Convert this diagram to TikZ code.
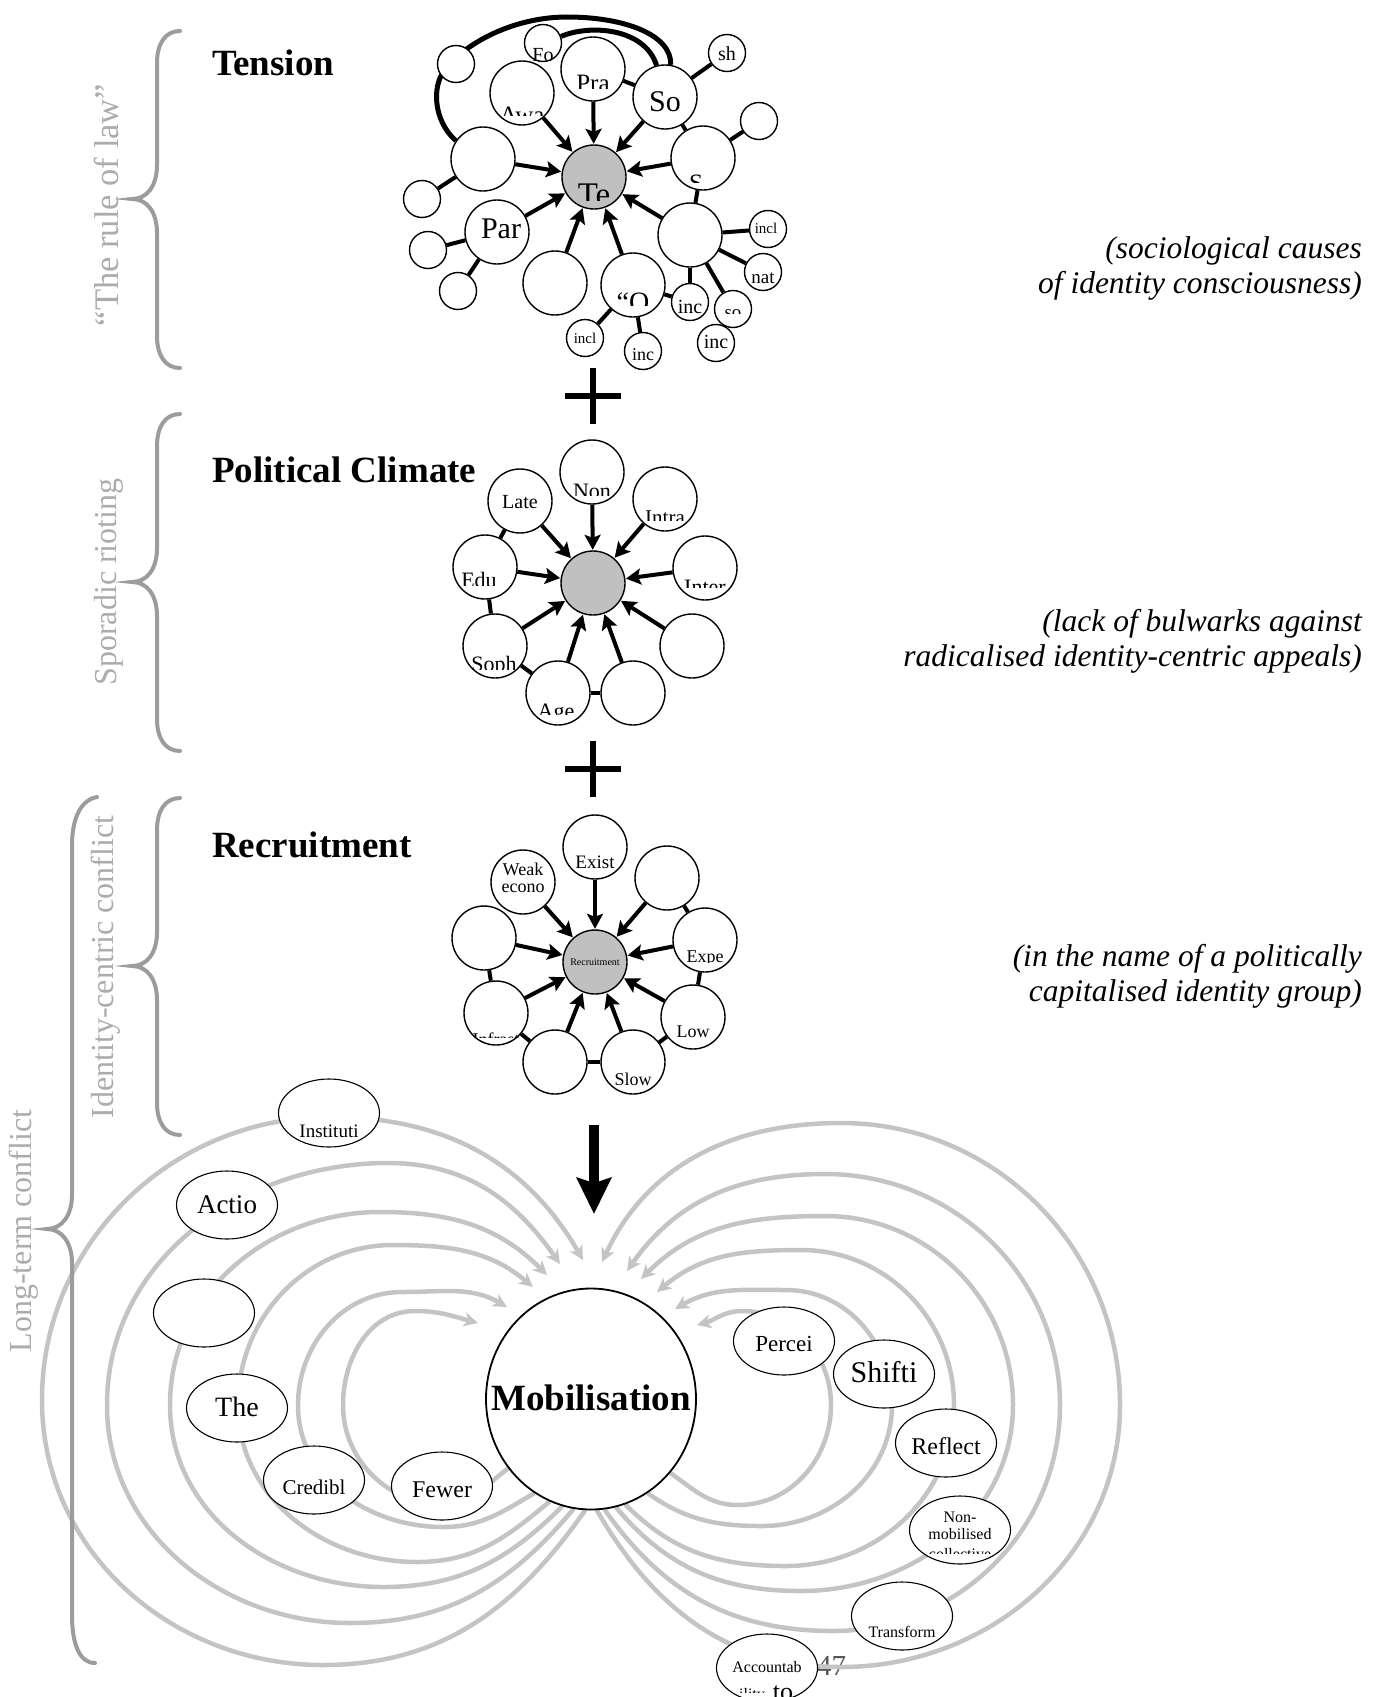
\documentclass[tikz,border=0pt]{standalone}
\usepackage{fontspec}
\setmainfont{Liberation Serif}
\usetikzlibrary{arrows.meta,shapes.geometric}
\definecolor{hubgray}{HTML}{C0C0C0}
\definecolor{loopgray}{HTML}{C4C4C4}
\definecolor{bracegray}{HTML}{9C9C9C}
\definecolor{labelgray}{HTML}{ACACAC}
\definecolor{pagenum}{HTML}{555555}
\pgfdeclarelayer{bgtext}
\pgfdeclarelayer{bg}
\pgfsetlayers{bgtext,bg,main}
% clipped text inside a node: #1 node, #2 font size, #3 text, #4 baseline offset (down), #5 clip offset (down), #6 x offset
\newcommand\ctxt[6]{%
  \begin{scope}
    \clip ([xshift=-120pt,yshift=-1pt*(#5)]#1.center) rectangle ([xshift=120pt,yshift=120pt]#1.center);
    \node[anchor=base,inner sep=0pt,font=\fontsize{#2}{#2}\selectfont] at ([xshift=1pt*(#6),yshift=-1pt*(#4)]#1.center) {#3};
  \end{scope}}
\newcommand\smallbracepath{(180,-31) .. controls (165,-31) and (157,-44) .. (157,-63) -- (157,-165) .. controls (157,-186) and (147,-199) .. (132,-199) .. controls (147,-199) and (157,-212) .. (157,-233) -- (157,-336) .. controls (157,-355) and (165,-368) .. (180,-368)}
\begin{document}
\begin{tikzpicture}[x=1pt,y=1pt,
  bub/.style={circle, draw, line width=1.4pt, fill=white, inner sep=0pt, minimum size=64pt},
  sbub/.style={bub, minimum size=37pt},
  hub/.style={bub, fill=hubgray},
  arr/.style={line width=4pt, -{Stealth[length=15pt,width=16pt,inset=3pt]}, shorten >=0.5pt},
  con/.style={line width=4pt},
  arcline/.style={line width=5pt},
  ell/.style={ellipse, draw, line width=1.1pt, fill=white, inner sep=0pt, minimum width=101pt, minimum height=68pt},
  fbloop/.style={line width=4.5pt, draw=loopgray, -{Stealth[length=14pt,width=14pt,inset=4pt]}},
  bracepath/.style={line width=4pt, draw=bracegray, line cap=round},
  sidelabel/.style={text=labelgray, rotate=90, anchor=base, inner sep=0pt, font=\fontsize{32}{38}\selectfont},
  titletext/.style={anchor=base west, inner sep=0pt, font=\bfseries\fontsize{37}{44}\selectfont},
  captiontext/.style={anchor=base east, inner sep=0pt, font=\itshape\fontsize{31.5}{36}\selectfont}]
\useasboundingbox (0,0) rectangle (1374,-1697);

% ---------- titles and captions ----------
\node[titletext] (tTitle) at (212,-75) {Tension};
\node[titletext] (pTitle) at (212,-482) {Political Climate};
\node[titletext] (rTitle) at (212,-857) {Recruitment};
\node[captiontext] (c1a) at (1362,-258) {(sociological causes};
\node[captiontext] (c1b) at (1362,-293) {of identity consciousness)};
\node[captiontext] (c2a) at (1362,-631) {(lack of bulwarks against};
\node[captiontext] (c2b) at (1362,-666) {radicalised identity-centric appeals)};
\node[captiontext] (c3a) at (1362,-966) {(in the name of a politically};
\node[captiontext] (c3b) at (1362,-1001) {capitalised identity group)};

% ---------- side labels and braces ----------
\node[sidelabel, font=\fontsize{34.5}{40}\selectfont] (l1) at (118,-205) {“The rule of law”};
\node[sidelabel] (l2) at (116,-582) {Sporadic rioting};
\node[sidelabel] (l3) at (113,-967) {Identity-centric conflict};
\node[sidelabel] (l4) at (31,-1231) {Long-term conflict};
\draw[bracepath] \smallbracepath;
\draw[bracepath,yshift=-383pt] \smallbracepath;
\draw[bracepath,yshift=-767pt] \smallbracepath;
\draw[bracepath] (97,-797) .. controls (80,-800) and (72,-820) .. (72,-845) -- (72,-1195)
  .. controls (72,-1215) and (62,-1229) .. (47,-1229) .. controls (62,-1229) and (72,-1243) .. (72,-1263)
  -- (72,-1615) .. controls (72,-1645) and (80,-1663) .. (95,-1663);

% ---------- Tension cluster ----------
\node[hub] (tTe) at (594,-177) {};
\node[bub] (tPra) at (593,-69) {};
\node[bub] (tSo) at (665,-97) {};
\node[bub] (tAw) at (522,-93) {};
\node[bub] (tL) at (483,-159) {};
\node[bub] (tPar) at (497,-232) {};
\node[bub] (tB) at (555,-283) {};
\node[bub] (tO) at (633,-285) {};
\node[bub] (tRB) at (690,-235) {};
\node[bub] (tS) at (703,-158) {};
\node[sbub] (tTL) at (456,-64) {};
\node[sbub] (tFo) at (543,-43) {};
\node[sbub] (tsh) at (727,-53) {};
\node[sbub] (tTR) at (759,-121) {};
\node[sbub] (tLs) at (422,-199) {};
\node[sbub] (tPs1) at (428,-250) {};
\node[sbub] (tPs2) at (458,-291) {};
\node[sbub] (tincl1) at (585,-338) {};
\node[sbub] (tinc1) at (643,-351) {};
\node[sbub] (tinc2) at (690,-302) {};
\node[sbub] (tincl2) at (768,-229) {};
\node[sbub] (tnat) at (763,-272) {};
\node[sbub] (tso) at (733,-309) {};
\node[sbub] (tinc3) at (716,-343) {};
\ctxt{tTe}{33}{Te}{28}{23}{0}
\ctxt{tPra}{25}{Pra}{22.5}{19}{0}
\ctxt{tSo}{30}{So}{14}{99}{0}
\ctxt{tAw}{25}{Awa}{30.5}{22}{0}
\ctxt{tFo}{20}{Fo}{18}{17}{0}
\ctxt{tsh}{20}{sh}{7}{99}{0}
\ctxt{tS}{25}{S}{33.5}{24}{-7}
\ctxt{tPar}{30}{Par}{6}{99}{4}
\ctxt{tO}{28}{“O}{26.5}{20}{0}
\ctxt{tincl1}{15}{incl}{5}{99}{0}
\ctxt{tinc1}{18}{inc}{9}{99}{0}
\ctxt{tinc2}{20}{inc}{11}{99}{0}
\ctxt{tincl2}{15}{incl}{4}{99}{-2}
\ctxt{tnat}{19}{nat}{11}{99}{0}
\ctxt{tso}{19}{so}{9}{4.5}{0}
\ctxt{tinc3}{20}{inc}{5}{99}{0}

% ---------- Political Climate cluster ----------
\node[hub] (pC) at (593,-583) {};
\node[bub] (pNon) at (592,-472) {};
\node[bub] (pLate) at (520,-501) {};
\node[bub] (pIntra) at (665,-499) {};
\node[bub] (pEdu) at (485,-567) {};
\node[bub] (pInter) at (705,-568) {};
\node[bub] (pSoph) at (495,-646) {};
\node[bub] (pR) at (692,-646) {};
\node[bub] (pAge) at (558,-693) {};
\node[bub] (pBR) at (633,-693) {};
\ctxt{pLate}{20}{Late}{7}{99}{0}
\ctxt{pNon}{22}{Non}{26}{23}{0}
\ctxt{pIntra}{21}{Intra}{25}{21}{0}
\ctxt{pEdu}{22}{Edu}{20.6}{18}{-6}
\ctxt{pInter}{22}{Inter}{26.6}{19}{0}
\ctxt{pSoph}{22}{Soph}{25.6}{23}{-1}
\ctxt{pAge}{22}{Age}{25.6}{21}{-2}

% ---------- Recruitment cluster ----------
\node[hub] (rC) at (595,-962) {};
\node[bub] (rExist) at (595,-847) {};
\node[bub] (rWeak) at (523,-882) {};
\node[bub] (rTR) at (667,-878) {};
\node[bub] (rL) at (484,-938) {};
\node[bub] (rExpe) at (705,-940) {};
\node[bub] (rInf) at (496,-1013) {};
\node[bub] (rLow) at (693,-1017) {};
\node[bub] (rB) at (555,-1062) {};
\node[bub] (rSlow) at (633,-1062) {};
\ctxt{rC}{10}{Recruitment}{3}{99}{0}
\ctxt{rExist}{19}{Exist}{21}{99}{0}
\ctxt{rWeak}{18}{Weak}{-7}{99}{0}
\ctxt{rWeak}{18}{econo}{10}{99}{0}
\ctxt{rExpe}{18}{Expe}{22}{22}{0}
\ctxt{rInf}{18}{Infrast}{32}{24}{0}
\ctxt{rLow}{18}{Low}{20}{99}{0}
\ctxt{rSlow}{18}{Slow}{23}{99}{0}

% ---------- plus signs and down arrow ----------
\draw[line width=6pt] (565,-396) -- (621,-396) (593,-368) -- (593,-424);
\draw[line width=6pt] (565,-769) -- (621,-769) (593,-741) -- (593,-797);
\coordinate (dTop) at (594,-1125);
\coordinate (dTip) at (594,-1214);
\draw[line width=10pt, -{Stealth[length=36pt,width=34pt,inset=5pt]}] (dTop) -- (dTip);

% ---------- Mobilisation and feedback ellipses ----------
\node[ellipse, draw, line width=1.8pt, fill=white, inner sep=0pt, minimum width=210pt, minimum height=221pt] (Mob) at (591,-1399) {};
\ctxt{Mob}{37}{\bfseries Mobilisation}{11}{99}{0}
\node[ell] (eInst) at (329,-1113) {};
\node[ell] (eActio) at (227,-1205) {};
\node[ell] (eSoc) at (204,-1313) {};
\node[ell] (eThe) at (237,-1408) {};
\node[ell] (eCred) at (314,-1480) {};
\node[ell] (eFew) at (442,-1486) {};
\node[ell] (ePer) at (784,-1341) {};
\node[ell] (eShi) at (884,-1374) {};
\node[ell] (eRef) at (946,-1443) {};
\node[ell] (eNon) at (960,-1530) {};
\node[ell] (eTra) at (902,-1616) {};
\node[ell] (eAcc) at (767,-1668) {};
\ctxt{eInst}{19}{Instituti}{24}{99}{0}
\ctxt{eActio}{27}{Actio}{8}{99}{0}
\ctxt{eThe}{28}{The}{8}{99}{0}
\ctxt{eCred}{21}{Credibl}{14}{99}{0}
\ctxt{eFew}{24}{Fewer}{11}{99}{0}
\ctxt{ePer}{23}{Percei}{10}{99}{0}
\ctxt{eShi}{30}{Shifti}{8}{99}{0}
\ctxt{eRef}{24}{Reflect}{11}{99}{0}
\ctxt{eNon}{16}{Non-}{-8}{99}{0}
\ctxt{eNon}{16}{mobilised}{9}{99}{0}
\ctxt{eNon}{16}{collective}{29}{23}{0}
\ctxt{eTra}{16}{Transform}{21}{99}{0}
\ctxt{eAcc}{16}{Accountab}{4}{99}{0}
\ctxt{eAcc}{16}{ility}{31}{24}{-15}
\node[anchor=base, inner sep=0pt, font=\fontsize{26}{26}\selectfont] (tto) at (783,-1700) {to};

\coordinate (la1) at (478,-1323);
\coordinate (la2) at (507,-1307);
\coordinate (la3) at (533,-1287);
\coordinate (la4) at (547,-1275);
\coordinate (la5) at (560,-1264);
\coordinate (la6) at (583,-1260);
\coordinate (ra1) at (697,-1325);
\coordinate (ra2) at (675,-1309);
\coordinate (ra3) at (657,-1292);
\coordinate (ra4) at (641,-1279);
\coordinate (ra5) at (627,-1271);
\coordinate (ra6) at (602,-1262);

\begin{pgfonlayer}{bgtext}
\node[anchor=base west, inner sep=0pt, text=pagenum, font=\fontsize{29}{29}\selectfont] (pg) at (817,-1675) {47};
\end{pgfonlayer}

\begin{pgfonlayer}{bg}
% tension connectors
\draw[con] (tPra) -- (tSo);
\draw[con] (tSo) -- (tsh);
\draw[con] (tSo) -- (tS);
\draw[con] (tS) -- (tTR);
\draw[con] (tS) -- (tRB);
\draw[con] (tL) -- (tLs);
\draw[con] (tPar) -- (tPs1);
\draw[con] (tPar) -- (tPs2);
\draw[con] (tO) -- (tincl1);
\draw[con] (tO) -- (tinc1);
\draw[con] (tO) -- (tinc2);
\draw[con] (tRB) -- (tinc2);
\draw[con] (tRB) -- (tincl2);
\draw[con] (tRB) -- (tnat);
\draw[con] (tRB) -- (tso);
\draw[con] (tso) -- (tinc3);
\draw[arcline] (tL.146) .. controls (438,-125) and (432,-98) .. (440,-78)
  .. controls (452,-52) and (505,-17) .. (567,-17)
  .. controls (625,-17) and (672,-35) .. (tSo.80);
\draw[arcline] (tFo.20) .. controls (590,-24) and (645,-28) .. (tSo.105);
\foreach \n in {tAw,tPra,tSo,tS,tRB,tO,tB,tPar,tL} \draw[arr] (\n) -- (tTe);
% political connectors
\foreach \n in {pNon,pLate,pIntra,pEdu,pInter,pSoph,pR,pAge,pBR} \draw[arr] (\n) -- (pC);
\draw[con] (pLate) -- (pEdu);
\draw[con] (pEdu) -- (pSoph);
\draw[con] (pSoph) -- (pAge);
\draw[con] (pAge) -- (pBR);
% recruitment connectors
\foreach \n in {rExist,rWeak,rTR,rL,rExpe,rInf,rLow,rB,rSlow} \draw[arr] (\n) -- (rC);
\draw[con] (rTR) -- (rExpe);
\draw[con] (rExpe) -- (rLow);
\draw[con] (rLow) -- (rSlow);
\draw[con] (rSlow) -- (rB);
\draw[con] (rB) -- (rInf);
\draw[con] (rInf) -- (rL);
% feedback loops, left
\draw[fbloop] (Mob.-140) to[out=215,in=0] (445,-1505) to[out=180,in=270] (343,-1405) to[out=90,in=180] (415,-1311) to[out=0,in=165] (la1);
\draw[fbloop] (Mob.-121) to[out=210,in=0] (443,-1527) to[out=180,in=270] (298,-1405) to[out=90,in=180] (402,-1292) to[out=0,in=150] (la2);
\draw[fbloop] (Mob.-112) to[out=220,in=0] (417,-1562) to[out=180,in=270] (238,-1405) to[out=90,in=180] (393,-1245) to[out=0,in=140] (la3);
\draw[fbloop] (Mob.-105) to[out=225,in=0] (383,-1587) to[out=180,in=270] (170,-1405) to[out=90,in=180] (380,-1212) to[out=0,in=135] (la4);
\draw[fbloop] (Mob.-99) to[out=230,in=0] (350,-1623) to[out=180,in=270] (107,-1405) to[out=90,in=180] (388,-1163) to[out=0,in=125] (la5);
\draw[fbloop] (Mob.-93) to[out=235,in=0] (323,-1665) to[out=180,in=270] (42,-1400) to[out=90,in=180] (330,-1117) to[out=0,in=120] (la6);
% feedback loops, right
\draw[fbloop] (Mob.-43) to[out=-35,in=180] (738,-1505) to[out=0,in=270] (831,-1405) to[out=90,in=0] (742,-1311) to[out=180,in=15] (ra1);
\draw[fbloop] (Mob.-59) to[out=-35,in=180] (762,-1526) to[out=0,in=270] (892,-1405) to[out=90,in=0] (786,-1290) to[out=180,in=30] (ra2);
\draw[fbloop] (Mob.-72) to[out=-45,in=180] (786,-1566) to[out=0,in=270] (954,-1405) to[out=90,in=0] (801,-1250) to[out=180,in=40] (ra3);
\draw[fbloop] (Mob.-77) to[out=-50,in=180] (801,-1591) to[out=0,in=270] (1013,-1405) to[out=90,in=0] (825,-1216) to[out=180,in=45] (ra4);
\draw[fbloop] (Mob.-83) to[out=-55,in=180] (833,-1631) to[out=0,in=270] (1060,-1405) to[out=90,in=0] (825,-1174) to[out=180,in=55] (ra5);
\draw[fbloop] (Mob.-87) to[out=-60,in=180] (841,-1667) to[out=0,in=270] (1120,-1405) to[out=90,in=0] (841,-1123) to[out=180,in=65] (ra6);
\end{pgfonlayer}
\end{tikzpicture}
\end{document}
